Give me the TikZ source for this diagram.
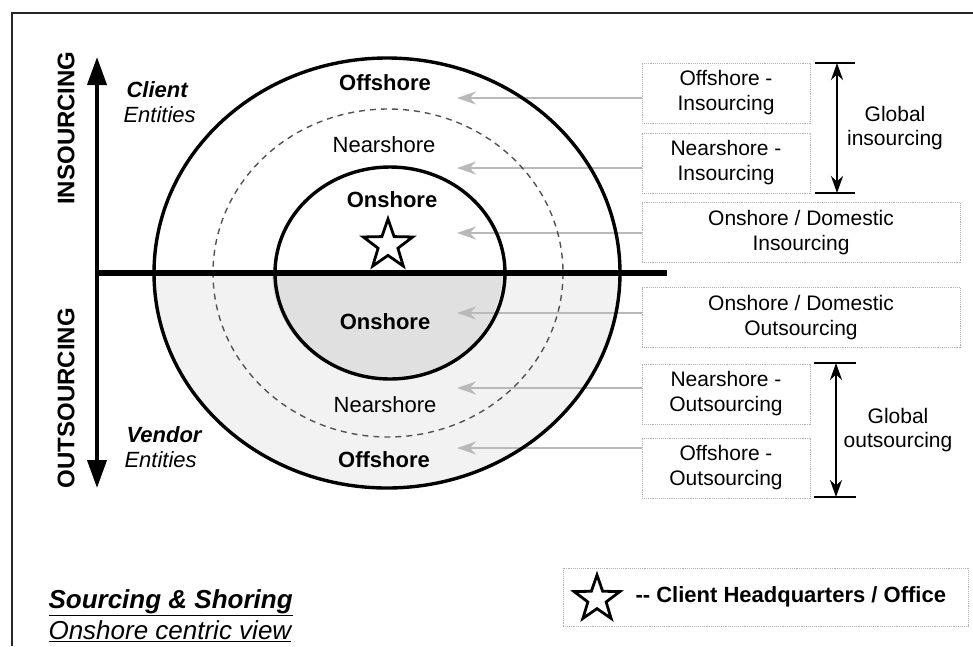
\documentclass[tikz,border=0pt]{standalone}
\usepackage{fontspec}
\setmainfont{Liberation Sans}
\usetikzlibrary{arrows.meta,shapes.geometric}
\begin{document}
\begin{tikzpicture}[x=1pt,y=-1pt,
  ring/.style={draw=black, line width=3.4pt},
  guide/.style={draw=gray!65!black, line width=1.4pt, dash pattern=on 6pt off 5pt},
  srcbox/.style={draw=gray!60, line width=0.9pt, densely dotted, minimum width=168pt,
    minimum height=60pt, align=center, inner sep=0pt,
    font=\fontsize{21}{25}\selectfont},
  widebox/.style={srcbox, minimum width=318pt},
  feed/.style={draw=gray!55, line width=2.2pt, -{Stealth[length=19pt,width=13pt]}},
  zone/.style={font=\fontsize{22}{26}\selectfont},
  bzone/.style={font=\bfseries\fontsize{22}{26}\selectfont},
  axislbl/.style={rotate=90, font=\bfseries\fontsize{24}{28}\selectfont},
  span/.style={line width=2.6pt, {Stealth[length=17pt,width=12pt]}-{Stealth[length=17pt,width=12pt]}},
  tick/.style={line width=1.6pt},
  hqstar/.style={star, star points=5, star point ratio=2.5, draw=black, line width=2.8pt,
    inner sep=0pt, minimum size=#1},
]
\useasboundingbox (0,0) rectangle (973,646);
\fill[white] (0,0) rectangle (973,646);

% frame
\draw[line width=1.3pt, gray!30!black] (12,646) -- (12,13) -- (973,13);

% shaded lower half (outsourcing side)
\begin{scope}
  \clip (0,273) rectangle (973,646);
  \fill[gray!10] (387,273) ellipse [x radius=233, y radius=215];
  \fill[gray!24] (387,273) ellipse [x radius=115, y radius=106];
\end{scope}

% sourcing option boxes
\node[srcbox]  (b1) at (726,93)    {Offshore -\\Insourcing};
\node[srcbox]  (b2) at (726,163)   {Nearshore -\\Insourcing};
\node[widebox] (b3) at (801,232.5) {Onshore / Domestic\\Insourcing};
\node[widebox] (b4) at (801,317.5) {Onshore / Domestic\\Outsourcing};
\node[srcbox]  (b5) at (726,394)   {Nearshore -\\Outsourcing};
\node[srcbox]  (b6) at (726,468)   {Offshore -\\Outsourcing};

% arrow targets inside the rings
\coordinate (t1) at (457,98);
\coordinate (t2) at (457,168);
\coordinate (t3) at (457,233);
\coordinate (t4) at (457,313);
\coordinate (t5) at (457,388);
\coordinate (t6) at (457,448);
\foreach \i in {1,...,6} \draw[feed] (b\i.west |- t\i) -- (t\i);

% rings
\draw[ring] (387,273) ellipse [x radius=233, y radius=215];
\draw[guide] (388,273) ellipse [x radius=175, y radius=164];
\draw[ring] (390,273) ellipse [x radius=115, y radius=106];

% axes
\coordinate (ax0) at (97,273);
\coordinate (ax1) at (667,273);
\draw[line width=6pt] (ax0) -- (ax1);
\coordinate (up) at (97,57);
\coordinate (down) at (97,488);
\draw[line width=4pt, {Triangle[length=28pt,width=19pt]}-{Triangle[length=28pt,width=19pt]}] (up) -- (down);

\node[axislbl] (ins)  at (66,128) {INSOURCING};
\node[axislbl] (outs) at (66,398) {OUTSOURCING};

\node[anchor=west, font=\bfseries\itshape\fontsize{22}{26}\selectfont] (cl) at (123,90) {Client};
\node[anchor=west, font=\itshape\fontsize{22}{26}\selectfont] (ce) at (120,115) {Entities};
\node[anchor=west, font=\bfseries\itshape\fontsize{22}{26}\selectfont] (vd) at (123,435) {Vendor};
\node[anchor=west, font=\itshape\fontsize{22}{26}\selectfont] (ve) at (121,460) {Entities};

% ring labels
\node[bzone] (off1)  at (385,83)  {Offshore};
\node[zone]  (near1) at (384,145) {Nearshore};
\node[bzone] (on1)   at (392,200) {Onshore};
\node[hqstar=52pt] (hq) at (388,245) {};
\node[bzone] (on2)   at (385,322) {Onshore};
\node[zone]  (near2) at (385,405) {Nearshore};
\node[bzone] (off2)  at (384,460) {Offshore};

% global spans
\coordinate (gi1) at (837,63);
\coordinate (gi2) at (837,193);
\draw[span] (gi1) -- (gi2);
\draw[tick] (gi1) ++(-22,0) -- ++(40,0);
\draw[tick] (gi2) ++(-22,0) -- ++(40,0);
\node[align=center, font=\fontsize{21}{24}\selectfont] (gil) at (895,128) {Global\\insourcing};

\coordinate (go1) at (836,363);
\coordinate (go2) at (836,497);
\draw[span] (go1) -- (go2);
\draw[tick] (go1) ++(-22,0) -- ++(42,0);
\draw[tick] (go2) ++(-22,0) -- ++(42,0);
\node[align=center, font=\fontsize{21}{24}\selectfont] (gol) at (898,430) {Global\\outsourcing};

% title
\node[anchor=west, font=\bfseries\itshape\fontsize{26}{30}\selectfont] (ttl) at (45,603) {\underline{Sourcing \& Shoring}};
\node[anchor=west, font=\itshape\fontsize{26}{30}\selectfont] (sub) at (45,631) {\underline{Onshore centric view}};

% legend
\node[draw=gray!60, line width=0.9pt, densely dotted, minimum width=405pt, minimum height=58pt] (lg) at (765.5,597) {};
\node[hqstar=48pt] (lgstar) at (597,599) {};
\node[anchor=west, font=\bfseries\fontsize{22}{26}\selectfont] (lgt) at (632,597) {-{}- Client Headquarters / Office};
\end{tikzpicture}
\end{document}
